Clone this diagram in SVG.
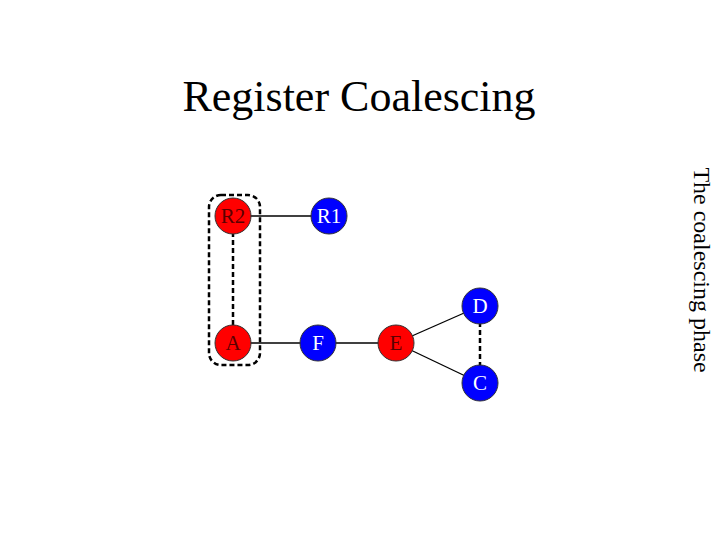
<svg xmlns="http://www.w3.org/2000/svg" width="720" height="540" viewBox="0 0 720 540">
<style>
text{font-family:"Liberation Serif",serif}
.n text{font-size:21px;text-anchor:middle;dominant-baseline:central}
.r circle{fill:#ff0000;stroke:#333;stroke-width:1}
.r text{fill:#5a0000}
.b circle{fill:#0000ff;stroke:#333;stroke-width:1}
.b text{fill:#fff}
.e{stroke:#000;stroke-width:1.3}
.d{stroke:#000;stroke-width:2.5;stroke-dasharray:5,3;fill:none}
</style>
<rect width="720" height="540" fill="#fff"/>
<text x="359" y="96" font-size="44" text-anchor="middle" dominant-baseline="central">Register Coalescing</text>
<text transform="translate(702,270) rotate(90)" font-size="24" text-anchor="middle" dominant-baseline="central">The coalescing phase</text>
<g id="connectors">
<line class="e" x1="233" y1="216" x2="329" y2="216"/>
<line class="e" x1="233" y1="343" x2="396" y2="343"/>
<line class="e" x1="396" y1="343" x2="480" y2="306"/>
<line class="e" x1="396" y1="343" x2="480" y2="383"/>
<line class="d" x1="233" y1="216" x2="233" y2="343"/>
<line class="d" x1="480" y1="306" x2="480" y2="383"/>
</g>
<rect id="group" class="d" x="209" y="195" width="51" height="170" rx="12"/>
<g id="R2" class="n r"><circle cx="233" cy="216" r="18"/><text x="233" y="216">R2</text></g>
<g id="R1" class="n b"><circle cx="329" cy="216" r="18"/><text x="329" y="216">R1</text></g>
<g id="A" class="n r"><circle cx="233" cy="343" r="18"/><text x="233" y="343">A</text></g>
<g id="F" class="n b"><circle cx="318" cy="343" r="18"/><text x="318" y="343">F</text></g>
<g id="E" class="n r"><circle cx="396" cy="343" r="18"/><text x="396" y="343">E</text></g>
<g id="D" class="n b"><circle cx="480" cy="306" r="18"/><text x="480" y="306">D</text></g>
<g id="C" class="n b"><circle cx="480" cy="383" r="18"/><text x="480" y="383">C</text></g>
</svg>
